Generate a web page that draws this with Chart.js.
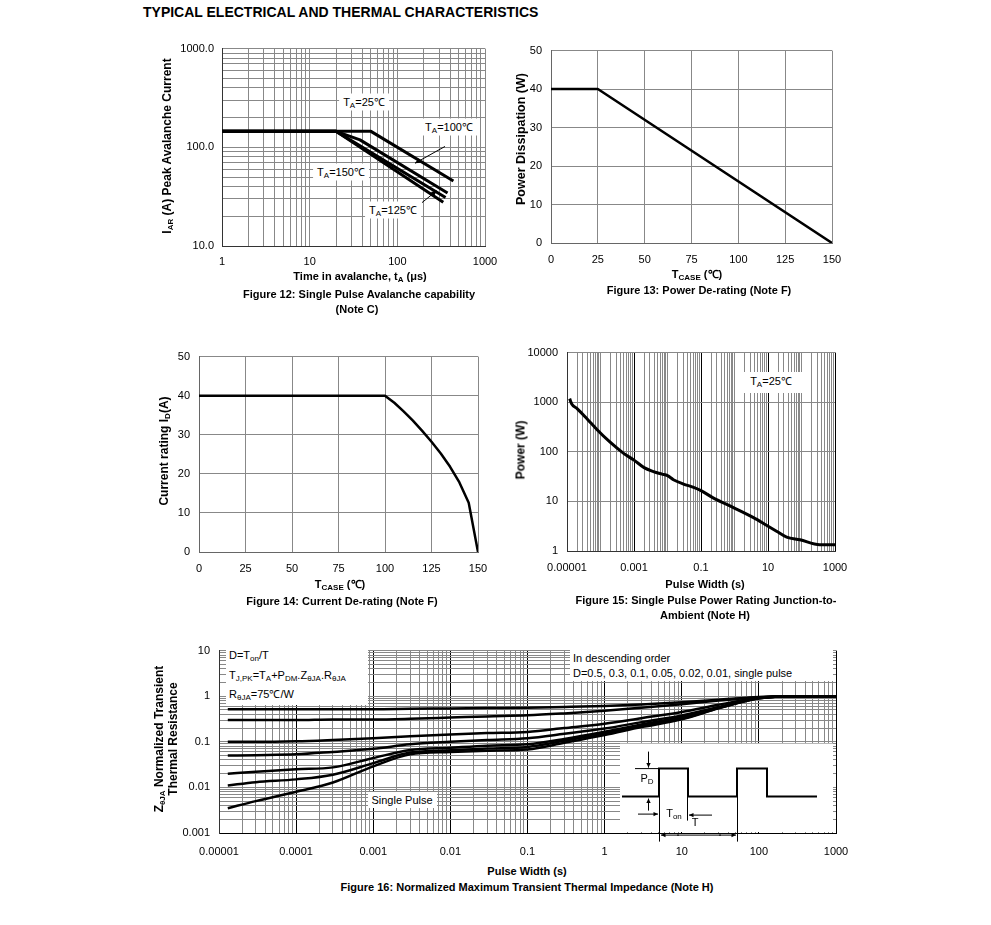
<!DOCTYPE html>
<html>
<head>
<meta charset="utf-8">
<script src="https://cdn.jsdelivr.net/npm/chart.js@4.4.1/dist/chart.umd.min.js"></script>
<style>
body{margin:0;background:#fff;width:991px;height:925px;position:relative;overflow:hidden;font-family:"Liberation Sans",Arial,sans-serif;color:#000}
canvas{position:absolute}
.h{position:absolute;font-size:14px;line-height:16px;font-weight:bold;white-space:nowrap}
.c,.l,.v{position:absolute;font-size:11px;line-height:13px;white-space:nowrap}
.c{transform:translate(-50%,-50%)}
.l{transform:translate(0,-50%)}
.v{transform:translate(-50%,-50%) rotate(-90deg);font-size:12px}
.b{font-weight:bold}
.w{position:absolute;background:#fff}
.lab{background:#fff;padding:2px 4px}
sub{font-size:8px;vertical-align:-2px;line-height:0}
</style>
</head>
<body>

<div class="h" style="left:143px;top:4px">TYPICAL ELECTRICAL AND THERMAL CHARACTERISTICS</div>

<!-- figure 12 -->
<div class="v b" style="left:167px;top:146px">I<sub>AR</sub> (A) Peak Avalanche Current</div>
<div class="c b" style="left:360px;top:276px">Time in avalanche, t<sub>A</sub> (μs)</div>
<div class="c b" style="left:359px;top:294px">Figure 12: Single Pulse Avalanche capability</div>
<div class="c b" style="left:357px;top:309px">(Note C)</div>
<div class="c lab" style="left:364px;top:102px">T<sub>A</sub>=25℃</div>
<div class="c lab" style="left:449px;top:127px">T<sub>A</sub>=100℃</div>
<div class="c lab" style="left:341px;top:172px">T<sub>A</sub>=150℃</div>
<div class="c lab" style="left:393px;top:210px">T<sub>A</sub>=125℃</div>

<!-- figure 13 -->
<div class="v b" style="left:521px;top:139px;font-size:12.5px">Power Dissipation (W)</div>
<div class="c b" style="left:697px;top:274px">T<sub>CASE</sub> (℃)</div>
<div class="c b" style="left:699px;top:290px">Figure 13: Power De-rating (Note F)</div>

<!-- figure 14 -->
<div class="v b" style="left:164px;top:451px">Current rating I<sub>D</sub>(A)</div>
<div class="c b" style="left:340px;top:584px">T<sub>CASE</sub> (℃)</div>
<div class="c b" style="left:342px;top:601px">Figure 14: Current De-rating (Note F)</div>

<!-- figure 15 -->
<div class="v b" style="left:521px;top:450px">Power (W)</div>
<div class="c b" style="left:705px;top:584px">Pulse Width (s)</div>
<div class="c b" style="left:706px;top:600px">Figure 15: Single Pulse Power Rating Junction-to-</div>
<div class="c b" style="left:705px;top:615px">Ambient (Note H)</div>
<div class="w" style="left:742px;top:372px;width:60px;height:21px"></div>
<div class="c" style="left:771px;top:381px">T<sub>A</sub>=25℃</div>

<!-- figure 16 -->
<div class="v b" style="left:159px;top:739px">Z<sub>θJA</sub> Normalized Transient</div>
<div class="v b" style="left:173px;top:739px">Thermal Resistance</div>
<div class="c b" style="left:527px;top:871px">Pulse Width (s)</div>
<div class="c b" style="left:527px;top:887px">Figure 16: Normalized Maximum Transient Thermal Impedance (Note H)</div>
<div class="w" style="left:226px;top:648px;width:142px;height:57px"></div>
<div class="l" style="left:229px;top:655px">D=T<sub>on</sub>/T</div>
<div class="l" style="left:229px;top:675px">T<sub>J,PK</sub>=T<sub>A</sub>+P<sub>DM</sub>.Z<sub>θJA</sub>.R<sub>θJA</sub></div>
<div class="l" style="left:229px;top:694px">R<sub>θJA</sub>=75℃/W</div>
<div class="w" style="left:570px;top:648px;width:263px;height:33px"></div>
<div class="l" style="left:573px;top:658px">In descending order</div>
<div class="l" style="left:573px;top:673px">D=0.5, 0.3, 0.1, 0.05, 0.02, 0.01, single pulse</div>
<div class="w" style="left:368px;top:792px;width:69px;height:16px"></div>
<div class="c" style="left:402px;top:800px">Single Pulse</div>
<div class="c" style="left:647px;top:778px">P<sub>D</sub></div>
<div class="c" style="left:674px;top:813px">T<sub>on</sub></div>
<div class="c" style="left:695px;top:822px">T</div>

<script>
// Figure 12: avalanche current vs time
const f12XTicks = [1, 10, 100, 1000];
const f12XLabels = ['1', '10', '100', '1000'];
const f12YTicks = [10, 100, 1000];
const f12YLabels = ['10.0', '100.0', '1000.0'];
const f12T25X = [1, 50, 436];
const f12T25Y = [145, 145, 45.5];
const f12T100X = [1, 20, 37.5, 374];
const f12T100Y = [145, 145, 119, 34.5];
const f12T125X = [1, 20, 355];
const f12T125Y = [145, 145, 31];
const f12T150X = [1, 20, 334];
const f12T150Y = [145, 145, 27.8];

// Figure 13: power derating
const f13Ticks = [0, 25, 50, 75, 100, 125, 150];
const f13YTicks = [0, 10, 20, 30, 40, 50];
const f13X = [0, 25, 150];
const f13Y = [40, 40, 0];

// Figure 14: current derating
const f14X = [0, 100, 105, 110, 115, 120, 125, 130, 135, 140, 145, 150];
const f14Y = [40, 40, 38.2, 36, 33.6, 31, 28.2, 25.2, 21.8, 17.8, 12.6, 0];

// Figure 15: single pulse power
const f15XTicks = [0.00001, 0.001, 0.1, 10, 1000];
const f15XLabels = ['0.00001', '0.001', '0.1', '10', '1000'];
const f15YTicks = [1, 10, 100, 1000, 10000];
const f15YLabels = ['1', '10', '100', '1000', '10000'];
const f15X = [1.2e-5, 1.4e-5, 2e-5, 4e-5, 7.8e-5, 1.9e-4, 4.9e-4, 1e-3, 2e-3, 3.8e-3, 6.8e-3, 1e-2,
  1.5e-2, 3e-2, 6e-2, 0.1, 0.23, 0.93, 3.7, 9, 18, 36, 90, 350, 1000];
const f15Y = [1180, 910, 745, 460, 282, 158, 93, 68, 48, 40, 35.5, 33,
  27.4, 22.4, 19.2, 16.5, 11.8, 7.5, 4.7, 3.3, 2.5, 1.9, 1.68, 1.34, 1.34];

// Figure 16: transient thermal impedance
const f16XTicks = [0.00001, 0.0001, 0.001, 0.01, 0.1, 1, 10, 100, 1000];
const f16XLabels = ['0.00001', '0.0001', '0.001', '0.01', '0.1', '1', '10', '100', '1000'];
const f16YTicks = [0.001, 0.01, 0.1, 1, 10];
const f16YLabels = ['0.001', '0.01', '0.1', '1', '10'];
const f16X = [1.3e-5, 3e-5, 1e-4, 3e-4, 1e-3, 3e-3, 1e-2, 3e-2, 0.1, 0.3, 1, 3, 10, 30, 100, 300, 1000];
const f16D05 = [0.52, 0.52, 0.52, 0.52, 0.52, 0.53, 0.54, 0.55, 0.56, 0.58, 0.61, 0.66, 0.74, 0.84, 0.96, 1.0, 1.0];
const f16D03 = [0.30, 0.30, 0.30, 0.31, 0.31, 0.32, 0.34, 0.36, 0.38, 0.42, 0.48, 0.56, 0.67, 0.80, 0.95, 1.0, 1.0];
const f16D01 = [0.100, 0.100, 0.103, 0.110, 0.120, 0.133, 0.145, 0.155, 0.165, 0.20, 0.25, 0.33, 0.45, 0.65, 0.93, 1.0, 1.0];
const f16D005 = [0.050, 0.051, 0.053, 0.060, 0.070, 0.088, 0.100, 0.110, 0.120, 0.150, 0.195, 0.27, 0.38, 0.58, 0.92, 1.0, 1.0];
const f16D002 = [0.020, 0.022, 0.025, 0.0275, 0.044, 0.066, 0.074, 0.082, 0.088, 0.115, 0.166, 0.24, 0.35, 0.56, 0.90, 1.0, 1.0];
const f16D001 = [0.011, 0.013, 0.015, 0.019, 0.034, 0.058, 0.065, 0.071, 0.077, 0.105, 0.152, 0.225, 0.32, 0.55, 0.90, 1.0, 1.0];
const f16Single = [0.0035, 0.005, 0.008, 0.0128, 0.029, 0.053, 0.060, 0.064, 0.068, 0.095, 0.14, 0.21, 0.31, 0.54, 0.90, 1.0, 1.0];

const PADL = 60, PADT = 12, PADR = 25, PADB = 26;
const GRID = '#888888';

Chart.defaults.font.family = '"Liberation Sans", Arial, sans-serif';
Chart.defaults.font.size = 11;
Chart.defaults.color = '#000';

function majorIdx(list, v) {
  return list.findIndex(m => Math.abs(m - v) <= Math.abs(m) * 1e-6 + 1e-12);
}

// every 1..9 x decade line between min and max
function logGrid(min, max) {
  const out = [];
  for (let d = min; d < max * 1.0001; d *= 10) {
    out.push(d);
    for (let k = 2; k < 10; k++) if (k * d < max * 0.9999) out.push(k * d);
  }
  return out;
}

function axis(isX, type, min, max, values, majors, labels, pad, colorFn, border) {
  return {
    type: type, min: min, max: max,
    afterBuildTicks: s => { s.ticks = values.map(v => ({ value: v })); },
    afterFit: s => { if (isX) s.height = PADB; else s.width = PADL; },
    ticks: {
      autoSkip: false, maxRotation: 0, minRotation: 0, padding: pad, color: '#000',
      callback: v => { const i = majorIdx(majors, v); return i < 0 ? '' : labels[i]; }
    },
    grid: { drawTicks: false, lineWidth: 1, color: ctx => colorFn(ctx.tick ? ctx.tick.value : 0) },
    border: { color: border, width: 1 }
  };
}

function line(xs, ys, w, mode) {
  return {
    data: xs.map((x, i) => ({ x: x, y: ys[i] })),
    borderColor: '#000', borderWidth: w, pointRadius: 0, fill: false,
    tension: 0, cubicInterpolationMode: mode || 'default', borderJoinStyle: 'round'
  };
}

function makeChart(area, scales, datasets, plugin) {
  const c = document.createElement('canvas');
  const w = area[2] + PADL + PADR, h = area[3] + PADT + PADB;
  c.width = w; c.height = h;
  c.style.left = (area[0] - PADL) + 'px';
  c.style.top = (area[1] - PADT) + 'px';
  c.style.width = w + 'px';
  c.style.height = h + 'px';
  document.body.insertBefore(c, document.body.firstChild);
  return new Chart(c, {
    type: 'line',
    data: { datasets: datasets },
    options: {
      responsive: false, animation: false,
      layout: { padding: { left: 0, top: PADT, right: PADR, bottom: 0 } },
      plugins: { legend: { display: false }, tooltip: { enabled: false } },
      scales: scales
    },
    plugins: plugin ? [plugin] : []
  });
}

function arrow(ctx, x1, y1, x2, y2, size) {
  const a = Math.atan2(y2 - y1, x2 - x1);
  ctx.beginPath(); ctx.moveTo(x1, y1); ctx.lineTo(x2, y2); ctx.stroke();
  ctx.beginPath();
  ctx.moveTo(x2, y2);
  ctx.lineTo(x2 - size * Math.cos(a - 0.45), y2 - size * Math.sin(a - 0.45));
  ctx.lineTo(x2 - size * Math.cos(a + 0.45), y2 - size * Math.sin(a + 0.45));
  ctx.closePath(); ctx.fill();
}

// leader lines of figure 12, in data units
const f12Leaders = [[350, 102, 159, 69], [191, 27.5, 281, 36.3]];
const f12Plugin = {
  id: 'leaders',
  afterDatasetsDraw(chart) {
    const ctx = chart.ctx, sx = chart.scales.x, sy = chart.scales.y;
    ctx.save();
    ctx.strokeStyle = '#000'; ctx.fillStyle = '#000'; ctx.lineWidth = 1;
    f12Leaders.forEach(l => arrow(ctx, sx.getPixelForValue(l[0]), sy.getPixelForValue(l[1]),
      sx.getPixelForValue(l[2]), sy.getPixelForValue(l[3]), 6));
    ctx.restore();
  }
};

// pulse sketch inside figure 16 (offsets from plot corner)
const f16Inset = {
  id: 'inset',
  beforeDatasetsDraw(chart) {
    const ctx = chart.ctx, a = chart.chartArea;
    ctx.save();
    ctx.fillStyle = '#fff';
    ctx.fillRect(a.left + 401, a.top + 93, 213, a.bottom - a.top - 94);
    ctx.restore();
  },
  afterDatasetsDraw(chart) {
    const ctx = chart.ctx, a = chart.chartArea;
    const X = v => a.left + v, Y = v => a.top + v;
    ctx.save();
    ctx.strokeStyle = '#000'; ctx.fillStyle = '#000';
    ctx.lineWidth = 2;
    const wave = [[403, 146], [440, 146], [440, 118], [469, 118], [469, 146], [518, 146],
      [518, 118], [548, 118], [548, 146], [598, 146]];
    ctx.beginPath();
    wave.forEach((p, i) => i ? ctx.lineTo(X(p[0]), Y(p[1])) : ctx.moveTo(X(p[0]), Y(p[1])));
    ctx.stroke();
    ctx.lineWidth = 1;
    ctx.beginPath();
    ctx.moveTo(X(416), Y(118)); ctx.lineTo(X(440), Y(118));
    ctx.moveTo(X(440.5), Y(146)); ctx.lineTo(X(440.5), Y(191));
    ctx.moveTo(X(518.5), Y(146)); ctx.lineTo(X(518.5), Y(191));
    ctx.moveTo(X(468.5), Y(146)); ctx.lineTo(X(468.5), Y(170));
    ctx.stroke();
    arrow(ctx, X(429.5), Y(101), X(429.5), Y(117), 5);
    arrow(ctx, X(429.5), Y(160), X(429.5), Y(148), 5);
    arrow(ctx, X(419), Y(163.5), X(439), Y(163.5), 5);
    arrow(ctx, X(493), Y(164.5), X(470), Y(164.5), 5);
    arrow(ctx, X(460), Y(184.5), X(442), Y(184.5), 5);
    arrow(ctx, X(500), Y(184.5), X(517), Y(184.5), 5);
    ctx.beginPath(); ctx.moveTo(X(458), Y(184.5)); ctx.lineTo(X(502), Y(184.5)); ctx.stroke();
    ctx.restore();
  }
};

const gray = () => GRID;

// Figure 12
const g12x = logGrid(1, 1000), g12y = logGrid(10, 1000);
makeChart([222, 46, 263, 200], {
  x: axis(true, 'logarithmic', 1, 1000, g12x, f12XTicks, f12XLabels, 9, gray, '#333'),
  y: axis(false, 'logarithmic', 10, 1000, g12y, f12YTicks, f12YLabels, 8, gray, '#333')
}, [
  line(f12T25X, f12T25Y, 3),
  line(f12T100X, f12T100Y, 3),
  line(f12T125X, f12T125Y, 3),
  line(f12T150X, f12T150Y, 3)
], f12Plugin);

// Figure 13
makeChart([551, 47, 281, 196], {
  x: axis(true, 'linear', 0, 150, f13Ticks, f13Ticks, f13Ticks.map(String), 10, gray, '#666'),
  y: axis(false, 'linear', 0, 50, f13YTicks, f13YTicks, f13YTicks.map(String), 9, gray, '#666')
}, [line(f13X, f13Y, 2.5)]);

// Figure 14
makeChart([199, 353, 279, 199], {
  x: axis(true, 'linear', 0, 150, f13Ticks, f13Ticks, f13Ticks.map(String), 10, gray, '#666'),
  y: axis(false, 'linear', 0, 50, f13YTicks, f13YTicks, f13YTicks.map(String), 9, gray, '#666')
}, [line(f14X, f14Y, 2.5)]);

// Figure 15
const g15x = logGrid(0.00001, 1000);
makeChart([567, 349, 268, 202], {
  x: axis(true, 'logarithmic', 0.00001, 1000, g15x, f15XTicks, f15XLabels, 10,
    v => majorIdx(f15XTicks, v) > 0 ? '#000' : GRID, '#333'),
  y: axis(false, 'logarithmic', 1, 10000, f15YTicks, f15YTicks, f15YLabels, 9, gray, '#333')
}, [line(f15X, f15Y, 3, 'monotone')]);

// Figure 16
const g16x = logGrid(0.00001, 1000), g16y = logGrid(0.001, 10);
makeChart([219, 647, 617, 186], {
  x: axis(true, 'logarithmic', 0.00001, 1000, g16x, f16XTicks, f16XLabels, 12,
    v => majorIdx(f16XTicks, v) >= 0 ? '#000' : GRID, '#000'),
  y: axis(false, 'logarithmic', 0.001, 10, g16y, f16YTicks, f16YLabels, 9, gray, '#333')
}, [
  line(f16X, f16D05, 2.5, 'monotone'),
  line(f16X, f16D03, 2.5, 'monotone'),
  line(f16X, f16D01, 2.5, 'monotone'),
  line(f16X, f16D005, 2.5, 'monotone'),
  line(f16X, f16D002, 2.5, 'monotone'),
  line(f16X, f16D001, 2.5, 'monotone'),
  line(f16X, f16Single, 2.5, 'monotone')
], f16Inset);
</script>
</body>
</html>
